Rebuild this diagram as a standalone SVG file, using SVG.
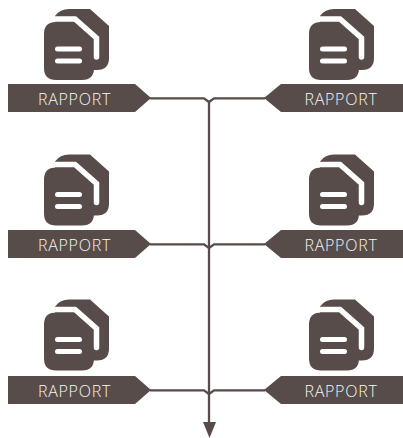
<svg xmlns="http://www.w3.org/2000/svg" width="403" height="438" viewBox="0 0 403 438">
<style>
.s{fill:#574c49}
.w{fill:none;stroke:#fff;stroke-linecap:round;stroke-linejoin:miter}
.t{fill:#fff;opacity:.96;font:300 16px "Open Sans",sans-serif;text-anchor:middle;letter-spacing:.75px}
.c{fill:none;stroke:#574c49;stroke-width:2.3}
</style>
<defs>
<g id="ic">
<path class="s" d="M55 16Q60 9 69 9H90L109 26V58Q109 70 97 70H85V30H55Z"/>
<path class="s" d="M56 22H75L94 38V68Q94 80 82 80H56Q44 80 44 68V34Q44 22 56 22Z"/>
<path class="w" stroke-width="5.500" d="M50 19H75L96.500 38V57"/>
<path class="w" stroke-width="5" d="M57.500 49H79.500M57.500 61H79.500"/>
</g>
</defs>
<g id="connectors">
<path class="c" d="M150 98.300H204L209 102L214 98.300H265M150 244.300H204L209 248L214 244.300H265M150 390.300H204L209 394L214 390.300H265"/>
<path class="c" d="M209 101V423"/>
<path class="s" d="M203 422H216L209.500 438Z"/>
</g>
<g id="n1"><use href="#ic"/><path class="s" d="M8 84H135L151 98L135 112H8Z"/><text class="t" x="74.500" y="104.500">RAPPORT</text></g>
<g id="n2"><use href="#ic" x="265"/><path class="s" d="M403 84H281L264 98L281 112H403Z"/><text class="t" x="341" y="104.500">RAPPORT</text></g>
<g id="n3"><use href="#ic" y="145.500"/><path class="s" d="M8 230H135L151 244L135 258H8Z"/><text class="t" x="74.500" y="250.500">RAPPORT</text></g>
<g id="n4"><use href="#ic" x="265" y="145.500"/><path class="s" d="M403 230H281L264 244L281 258H403Z"/><text class="t" x="341" y="250.500">RAPPORT</text></g>
<g id="n5"><use href="#ic" y="290.500"/><path class="s" d="M8 376H135L151 390L135 404H8Z"/><text class="t" x="74.500" y="396.500">RAPPORT</text></g>
<g id="n6"><use href="#ic" x="265" y="290.500"/><path class="s" d="M403 376H281L264 390L281 404H403Z"/><text class="t" x="341" y="396.500">RAPPORT</text></g>
</svg>
